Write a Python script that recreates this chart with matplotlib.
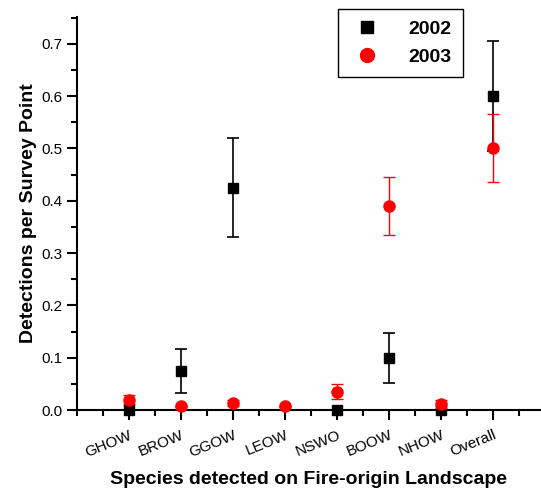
import matplotlib.pyplot as plt
from matplotlib.lines import Line2D
from matplotlib.ticker import MultipleLocator
plt.rcParams.update({"font.family": ["Liberation Sans", "DejaVu Sans"], "font.size": 11})

species = ["GHOW", "BROW", "GGOW", "LEOW", "NSWO", "BOOW", "NHOW", "Overall"]

# 2002 (LEOW not recorded)
x02 = [1, 2, 3, 5, 6, 7, 8]
y02 = [0.0, 0.075, 0.425, 0.0, 0.10, 0.0, 0.60]
e02 = [0.0, 0.042, 0.095, 0.0, 0.048, 0.0, 0.105]

x03 = [1, 2, 3, 4, 5, 6, 7, 8]
y03 = [0.020, 0.007, 0.013, 0.007, 0.035, 0.39, 0.012, 0.50]
e03 = [0.008, 0.002, 0.006, 0.002, 0.014, 0.056, 0.008, 0.065]

fig = plt.figure(figsize=(5.41, 4.95), dpi=100)
ax = fig.add_axes([0.1423, 0.1717, 0.8577, 0.794])

ax.errorbar(x02, y02, yerr=e02, fmt="s", color="black", ms=6.5,
            capsize=4.5, elinewidth=1.2, capthick=1.2,
            clip_on=False, zorder=3)
ax.errorbar(x03, y03, yerr=e03, fmt="o", color="red", ms=8,
            capsize=4.5, elinewidth=1.0, capthick=1.0,
            clip_on=False, zorder=4)

ax.set_xlim(0, 8.92)
ax.set_ylim(0, 0.7514)
ax.set_xticks(range(1, 9))
ax.set_xticklabels(species, rotation=22, ha="right", rotation_mode="anchor",
                   fontsize=11)
ax.xaxis.set_minor_locator(MultipleLocator(0.5))
ax.yaxis.set_major_locator(MultipleLocator(0.1))
ax.yaxis.set_minor_locator(MultipleLocator(0.05))
ax.yaxis.set_major_formatter(plt.FormatStrFormatter("%.1f"))

for s in ["top", "right"]:
    ax.spines[s].set_visible(False)
for s in ["left", "bottom"]:
    ax.spines[s].set_linewidth(1.5)
ax.tick_params(which="major", length=7, width=1.5, direction="out")
ax.tick_params(axis="x", which="major", pad=6)
ax.tick_params(which="minor", length=4, width=1.5, direction="out")

ax.set_xlabel("Species detected on Fire-origin Landscape", fontsize=14,
              fontweight="bold", labelpad=8)
ax.set_ylabel("Detections per Survey Point", fontsize=14,
              fontweight="bold", labelpad=3)

handles = [
    Line2D([], [], ls="none", marker="s", color="black", ms=9),
    Line2D([], [], ls="none", marker="o", color="red", ms=10),
]
leg = ax.legend(handles, ["2002", "2003"], loc="upper right",
                bbox_to_anchor=(463 / 541, 1 - 9 / 495),
                bbox_transform=fig.transFigure, fancybox=False,
                edgecolor="black", framealpha=1, handletextpad=1.2,
                handlelength=1.8, borderpad=0.6, labelspacing=0.5,
                borderaxespad=0,
                prop={"weight": "bold", "size": 14})
leg.get_frame().set_linewidth(1.0)

fig.savefig("out.png", dpi=100)
